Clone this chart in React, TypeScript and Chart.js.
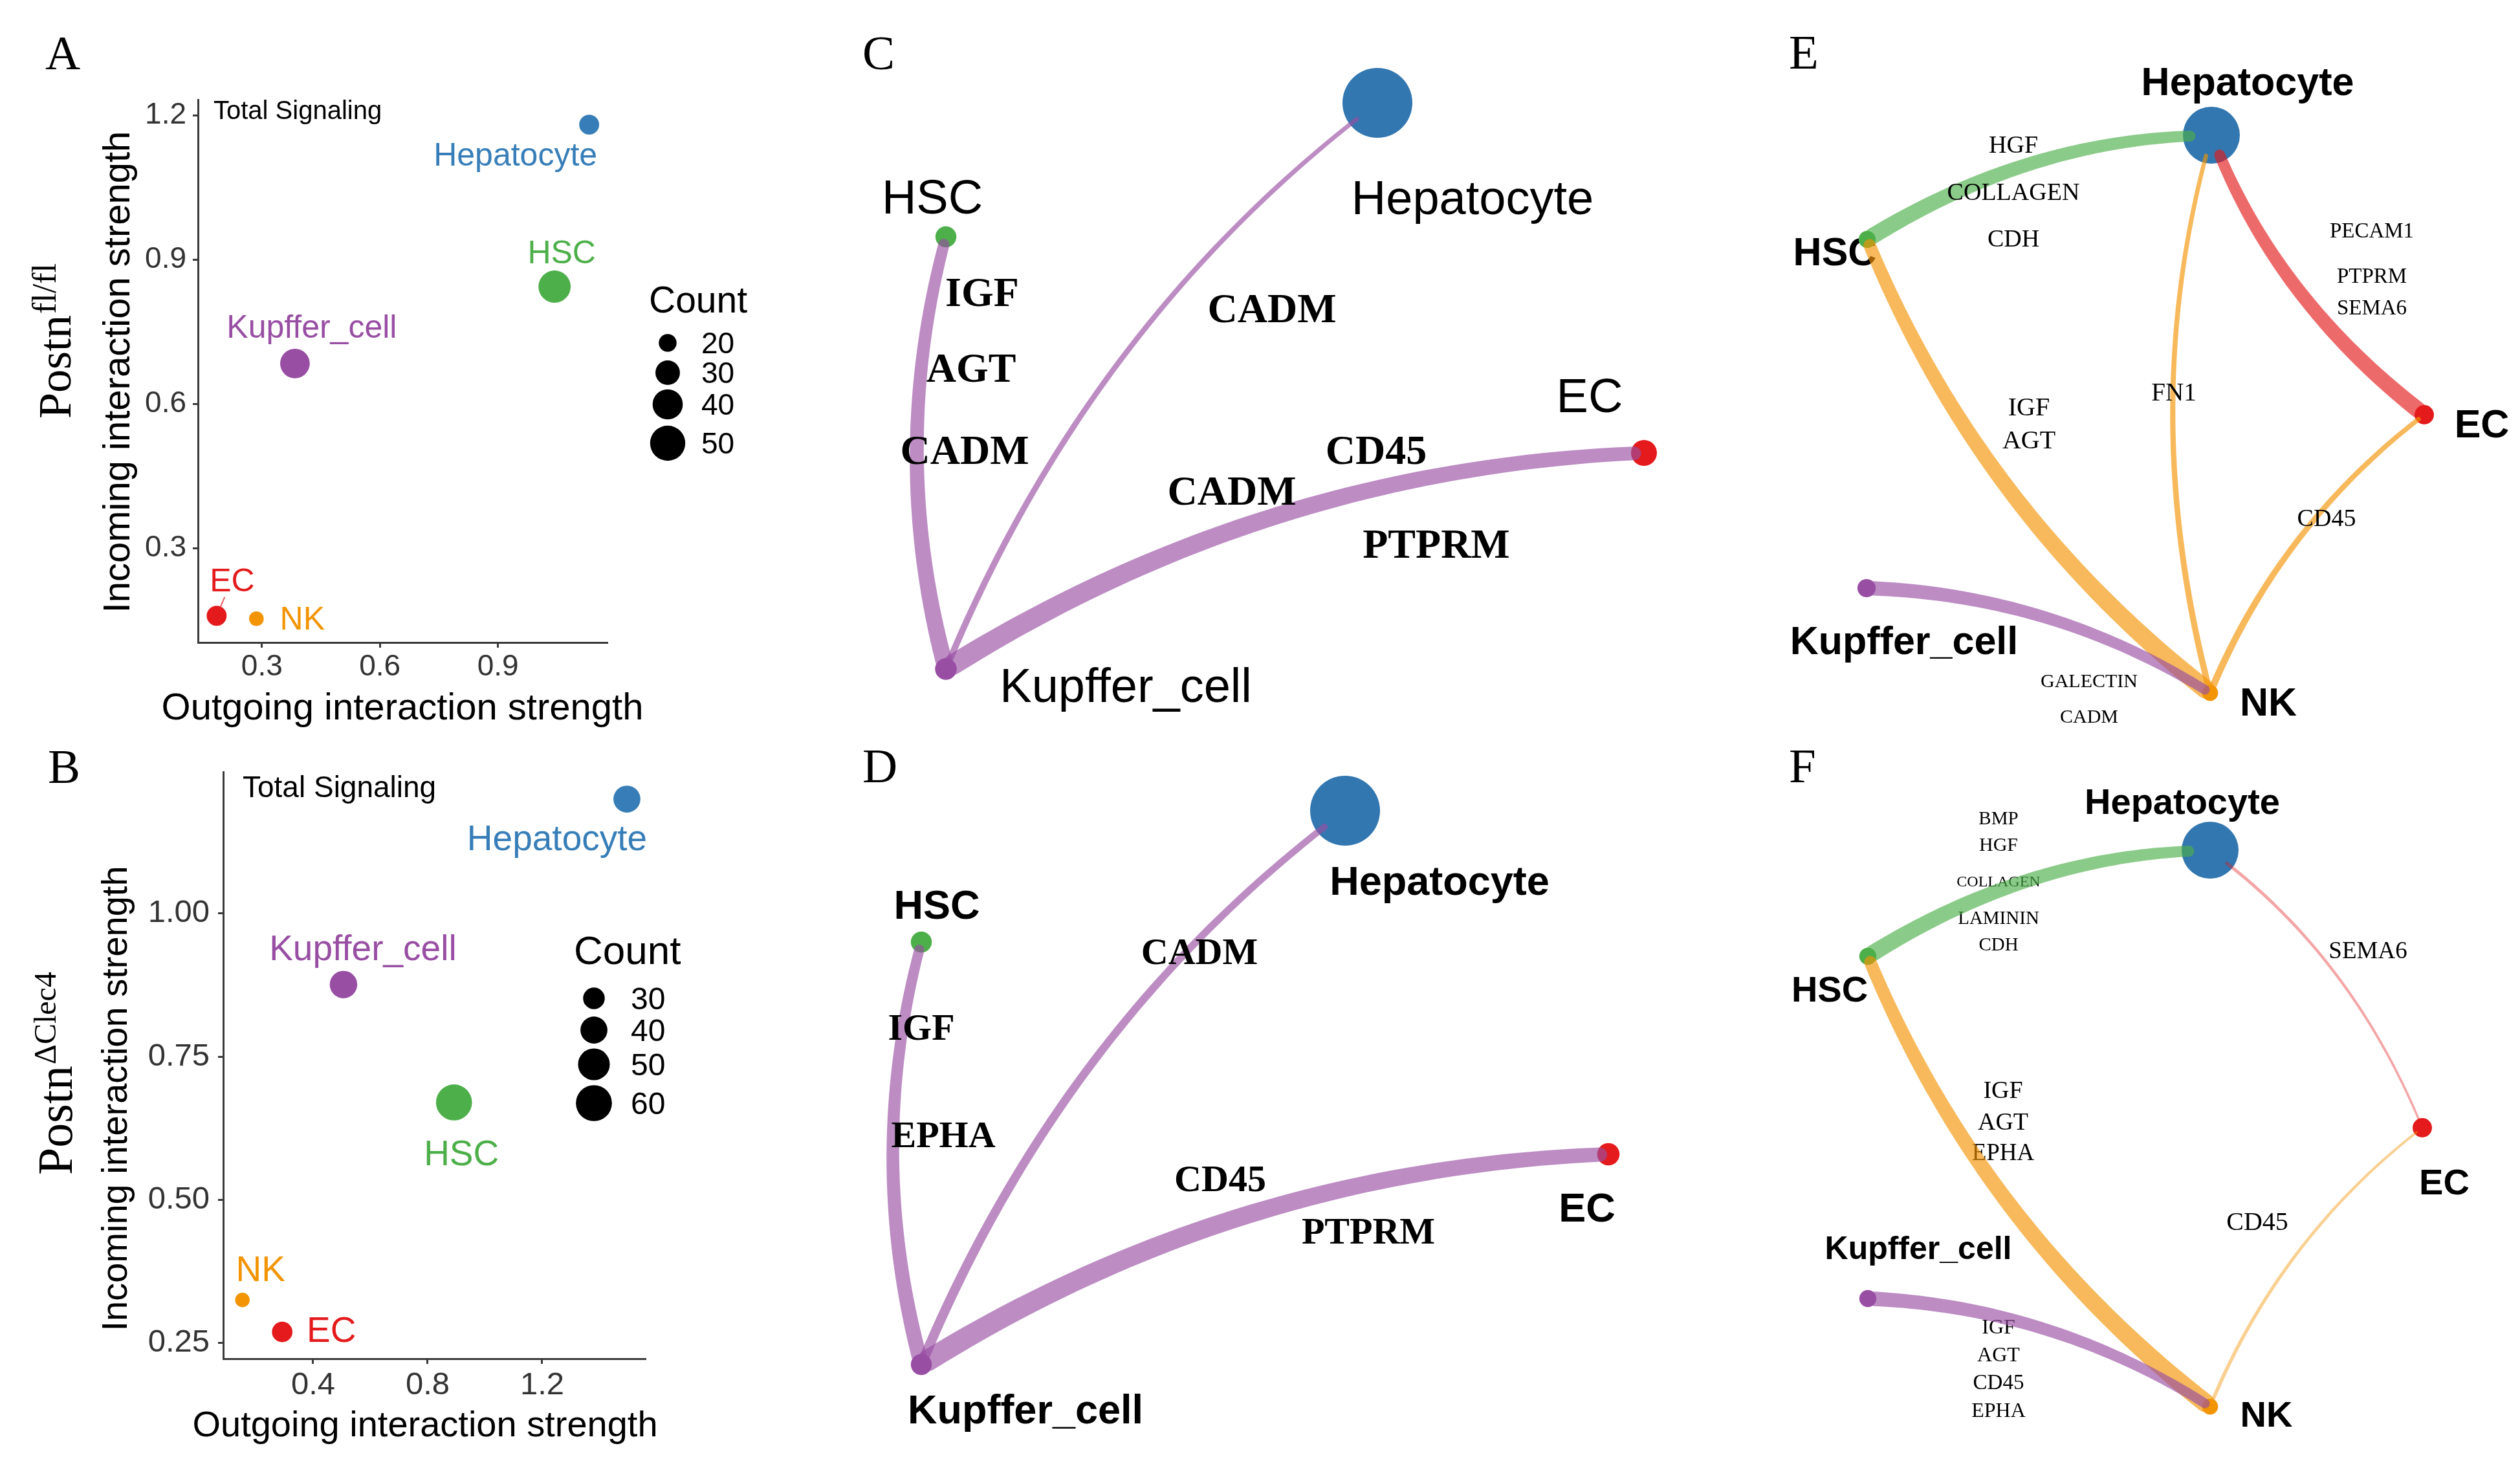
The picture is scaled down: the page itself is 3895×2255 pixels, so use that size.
import React, { useEffect, useRef } from "react";
import { Chart, registerables } from "chart.js";

Chart.register(...registerables);

const SANS = "'Liberation Sans', Arial, Helvetica, sans-serif";
const SERIF = "'Liberation Serif', 'Times New Roman', serif";

// ---------- shared categories ----------
const CELL_TYPES = ["Hepatocyte", "HSC", "Kupffer_cell", "EC", "NK"];
const CELL_COLORS = ["#377EB8", "#4DAF4A", "#984EA3", "#E41A1C", "#F29403"];
const NODE_COLORS = ["#3277B0", "#4DAF4A", "#984EA3", "#E41A1C", "#F29403"];

// ---------- Panel A (Postn fl/fl) ----------
const A_OUTGOING = [1.132, 1.044, 0.384, 0.185, 0.286];
const A_INCOMING = [1.181, 0.844, 0.684, 0.159, 0.153];
const A_COUNT = [23, 44, 39, 23, 16];
const A_X_TICKS = [0.3, 0.6, 0.9];
const A_Y_TICKS = [0.3, 0.6, 0.9, 1.2];
const A_COUNT_LEGEND = [20, 30, 40, 50];

// ---------- Panel B (Postn ΔClec4) ----------
const B_OUTGOING = [1.496, 0.892, 0.506, 0.292, 0.153];
const B_INCOMING = [1.2, 0.67, 0.876, 0.269, 0.325];
const B_COUNT = [40, 60, 41, 28, 19];
const B_X_TICKS = [0.4, 0.8, 1.2];
const B_Y_TICKS = [0.25, 0.5, 0.75, 1.0];
const B_COUNT_LEGEND = [30, 40, 50, 60];

// ---------- Panel C network (indices into CELL_TYPES) ----------
const C_NODES = [1, 0, 3, 2];
const C_NODE_X = [1462, 2129, 2541, 1462];
const C_NODE_Y = [366, 159, 700, 1034];
const C_NODE_WEIGHT = [0.3, 1.0, 0.37, 0.31];
const C_EDGE_FROM = [2, 2, 2];
const C_EDGE_TO = [1, 0, 3];
const C_EDGE_WEIGHT = [0.72, 0.28, 0.88];
const C_EDGE_COLOR = [2, 2, 2];
const C_EDGE_LABELS = ["IGF", "AGT", "CADM", "CADM", "CD45", "CADM", "PTPRM"];
const C_EDGE_LABEL_X = [1518, 1501, 1491, 1966, 2127, 1904, 2220];
const C_EDGE_LABEL_Y = [452, 569, 696, 477, 696, 759, 841];
const C_NODE_LABEL_X = [1441, 2276, 2457, 1740];
const C_NODE_LABEL_Y = [304, 305, 611, 1059];

// ---------- Panel D network ----------
const D_NODES = [1, 0, 3, 2];
const D_NODE_X = [1424, 2079, 2486, 1424];
const D_NODE_Y = [1456, 1253, 1784, 2109];
const D_NODE_WEIGHT = [0.3, 1.0, 0.32, 0.3];
const D_EDGE_FROM = [2, 2, 2];
const D_EDGE_TO = [1, 0, 3];
const D_EDGE_WEIGHT = [0.65, 0.42, 0.92];
const D_EDGE_COLOR = [2, 2, 2];
const D_EDGE_LABELS = ["CADM", "IGF", "EPHA", "CD45", "PTPRM"];
const D_EDGE_LABEL_X = [1854, 1424, 1458, 1886, 2115];
const D_EDGE_LABEL_Y = [1471, 1588, 1754, 1822, 1903];
const D_NODE_LABEL_X = [1448, 2225, 2453, 1585];
const D_NODE_LABEL_Y = [1397, 1360, 1865, 2177];

// ---------- Panel E network ----------
const E_NODES = [0, 1, 3, 2, 4];
const E_NODE_X = [3418, 2886, 3747, 2885, 3416];
const E_NODE_Y = [209, 370, 641, 909, 1071];
const E_NODE_WEIGHT = [1.0, 0.3, 0.34, 0.32, 0.28];
const E_EDGE_FROM = [1, 4, 4, 3, 4, 2];
const E_EDGE_TO = [0, 1, 0, 0, 3, 4];
const E_EDGE_WEIGHT = [0.7, 0.8, 0.27, 0.7, 0.3, 0.62];
const E_EDGE_COLOR = [1, 4, 4, 3, 4, 2];
const E_EDGE_LABELS = ["HGF", "COLLAGEN", "CDH", "PECAM1", "PTPRM", "SEMA6", "FN1", "IGF", "AGT", "CD45", "GALECTIN", "CADM"];
const E_EDGE_LABEL_X = [3112, 3112, 3112, 3666, 3666, 3666, 3360, 3136, 3136, 3596, 3229, 3229];
const E_EDGE_LABEL_Y = [223, 296, 368, 356, 426, 475, 606, 629, 680, 800, 1052, 1107];
const E_NODE_LABEL_X = [3474, 2836, 3836, 2943, 3506];
const E_NODE_LABEL_Y = [125, 388, 654, 989, 1084];

// ---------- Panel F network ----------
const F_NODES = [0, 1, 3, 2, 4];
const F_NODE_X = [3416, 2887, 3744, 2887, 3416];
const F_NODE_Y = [1314, 1478, 1743, 2007, 2174];
const F_NODE_WEIGHT = [1.0, 0.3, 0.34, 0.3, 0.28];
const F_EDGE_FROM = [1, 4, 0, 4, 2];
const F_EDGE_TO = [0, 1, 3, 3, 4];
const F_EDGE_WEIGHT = [0.7, 0.8, 0.14, 0.16, 0.62];
const F_EDGE_COLOR = [1, 4, 3, 4, 2];
const F_EDGE_LABELS = ["BMP", "HGF", "COLLAGEN", "LAMININ", "CDH", "SEMA6", "IGF", "AGT", "EPHA", "CD45", "IGF", "AGT", "CD45", "EPHA"];
const F_EDGE_LABEL_X = [3089, 3089, 3089, 3089, 3089, 3660, 3096, 3096, 3096, 3489, 3089, 3089, 3089, 3089];
const F_EDGE_LABEL_Y = [1264, 1305, 1362, 1418, 1459, 1469, 1684, 1733, 1781, 1888, 2050, 2093, 2136, 2179];
const F_NODE_LABEL_X = [3373, 2828, 3778, 2965, 3503];
const F_NODE_LABEL_Y = [1238, 1528, 1826, 1928, 2185];

// ---------- helpers ----------
function rgba(hex: string, a: number) {
  const n = parseInt(hex.slice(1), 16);
  return `rgba(${(n >> 16) & 255},${(n >> 8) & 255},${n & 255},${a})`;
}

function txt(ctx: CanvasRenderingContext2D, s: string, x: number, y: number, size: number, o: any = {}) {
  const fam = o.family || SANS;
  ctx.font = `${o.weight || "normal"} ${size}px ${fam}`;
  ctx.fillStyle = o.color || "#000";
  ctx.textAlign = o.align || "center";
  ctx.textBaseline = "alphabetic";
  const cap = fam === SERIF ? 0.662 : 0.716;
  ctx.fillText(s, x, y + (size * cap) / 2);
}

function letter(ctx: CanvasRenderingContext2D, s: string, x: number, y: number) {
  ctx.font = `normal 75px ${SERIF}`;
  ctx.fillStyle = "#000";
  ctx.textAlign = "left";
  ctx.textBaseline = "alphabetic";
  ctx.fillText(s, x, y);
}

// ---------- scatter panels ----------
const A_SPEC = {
  box: [0, 0, 1300, 1127],
  area: [306, 154, 939, 993],
  x: A_OUTGOING, y: A_INCOMING, count: A_COUNT,
  xRange: [0.1375, 1.1786], yRange: [0.1035, 1.2331],
  xTicks: A_X_TICKS, yTicks: A_Y_TICKS, xDec: 1, yDec: 1, tickSize: 46, xPad: 3, yPad: 10,
  radius: (v: number) => -9.37 + 5.17 * Math.sqrt(v),
  labelOffsets: [[-114, 45], [11, -54], [26, -58], [24, -56], [71, -1]],
  labelSize: 50,
  segment: [false, false, false, true, false],
  total: { x: 330, y: 170, size: 40 },
  xTitle: { x: 622, y: 1091, size: 58 },
  yTitle: { x: 179, y: 575, size: 58 },
  postn: { x: 109, y: 527, size: 72, sup: "fl/fl", supSize: 52, raise: 23 },
  legend: { titleX: 1003, titleY: 463, titleSize: 57, dotX: 1032, ys: [530, 576, 625, 685], values: A_COUNT_LEGEND, labelX: 1084, labelSize: 46 },
  letter: { s: "A", x: 70, y: 107 },
};

const B_SPEC = {
  box: [0, 1127, 1300, 1128],
  area: [345, 1193, 998, 2100],
  x: B_OUTGOING, y: B_INCOMING, count: B_COUNT,
  xRange: [0.0859, 1.5616], yRange: [0.2223, 1.2475],
  xTicks: B_X_TICKS, yTicks: B_Y_TICKS, xDec: 1, yDec: 2, tickSize: 49, xPad: 4, yPad: 13,
  radius: (v: number) => -10.08 + 4.895 * Math.sqrt(v),
  labelOffsets: [[-108, 59], [11.5, 77], [30, -57], [76, -4], [28, -49]],
  labelSize: 55,
  segment: [false, false, false, false, false],
  total: { x: 375, y: 1216, size: 46 },
  xTitle: { x: 657, y: 2200, size: 56 },
  yTitle: { x: 176, y: 1698, size: 56 },
  postn: { x: 111, y: 1659, size: 76, sup: "\u0394Clec4", supSize: 48, raise: 25 },
  legend: { titleX: 887, titleY: 1468, titleSize: 62, dotX: 918, ys: [1543, 1592, 1645, 1705], values: B_COUNT_LEGEND, labelX: 975, labelSize: 48 },
  letter: { s: "B", x: 74, y: 1210 },
};

function axisCfg(range: number[], ticks: number[], dec: number, size: number, pad: number, isX: boolean, extent: number) {
  return {
    type: "linear",
    min: range[0],
    max: range[1],
    afterFit: (sc: any) => {
      if (isX) sc.height = extent;
      else sc.width = extent;
    },
    afterBuildTicks: (sc: any) => {
      sc.ticks = ticks.map((v) => ({ value: v }));
    },
    ticks: {
      callback: (v: any) => Number(v).toFixed(dec),
      font: { family: SANS, size },
      color: "#333333",
      padding: pad,
      maxRotation: 0,
      minRotation: 0,
      autoSkip: false,
    },
    grid: { drawOnChartArea: false, drawTicks: true, tickLength: 8, tickColor: "#3a3a3a", tickWidth: 3 },
    border: { display: true, color: "#3a3a3a", width: 3 },
  };
}

function scatterPlugin(s: any) {
  return {
    id: "scatterText" + s.letter.s,
    afterDraw(chart: any) {
      const ctx: CanvasRenderingContext2D = chart.ctx;
      const ox = s.box[0], oy = s.box[1];
      const xs = chart.scales.x, ys = chart.scales.y;
      ctx.save();
      s.x.forEach((xv: number, i: number) => {
        const px = xs.getPixelForValue(xv), py = ys.getPixelForValue(s.y[i]);
        const [dx, dy] = s.labelOffsets[i];
        if (s.segment[i]) {
          const L = Math.hypot(dx, dy);
          const ux = dx / L, uy = dy / L;
          const r = s.radius(s.count[i]);
          ctx.beginPath();
          ctx.moveTo(px + ux * r, py + uy * r);
          ctx.lineTo(px + ux * (r + 16), py + uy * (r + 16));
          ctx.strokeStyle = rgba(CELL_COLORS[i], 0.7);
          ctx.lineWidth = 2;
          ctx.stroke();
        }
        txt(ctx, CELL_TYPES[i], px + dx, py + dy, s.labelSize, { color: CELL_COLORS[i] });
      });
      txt(ctx, "Total Signaling", s.total.x - ox, s.total.y - oy, s.total.size, { align: "left" });
      txt(ctx, "Outgoing interaction strength", s.xTitle.x - ox, s.xTitle.y - oy, s.xTitle.size, {});
      ctx.save();
      ctx.translate(s.yTitle.x - ox, s.yTitle.y - oy);
      ctx.rotate(-Math.PI / 2);
      txt(ctx, "Incoming interaction strength", 0, 0, s.yTitle.size, {});
      ctx.restore();
      // Postn genotype label with superscript
      ctx.save();
      ctx.translate(s.postn.x - ox, s.postn.y - oy);
      ctx.rotate(-Math.PI / 2);
      ctx.font = `normal ${s.postn.size}px ${SERIF}`;
      const w1 = ctx.measureText("Postn").width;
      ctx.font = `normal ${s.postn.supSize}px ${SERIF}`;
      const w2 = ctx.measureText(s.postn.sup).width;
      const start = -(w1 + w2 + 2) / 2;
      ctx.fillStyle = "#000";
      ctx.textAlign = "left";
      ctx.textBaseline = "alphabetic";
      ctx.font = `normal ${s.postn.size}px ${SERIF}`;
      ctx.fillText("Postn", start, 0);
      ctx.font = `normal ${s.postn.supSize}px ${SERIF}`;
      ctx.fillText(s.postn.sup, start + w1 + 2, -s.postn.raise);
      ctx.restore();
      // size legend
      const lg = s.legend;
      txt(ctx, "Count", lg.titleX - ox, lg.titleY - oy, lg.titleSize, { align: "left" });
      lg.values.forEach((v: number, i: number) => {
        const cy = lg.ys[i] - oy;
        ctx.beginPath();
        ctx.arc(lg.dotX - ox, cy, s.radius(v), 0, Math.PI * 2);
        ctx.fillStyle = "#000";
        ctx.fill();
        txt(ctx, String(v), lg.labelX - ox, cy, lg.labelSize, { align: "left" });
      });
      letter(ctx, s.letter.s, s.letter.x - ox, s.letter.y - oy);
      ctx.restore();
    },
  };
}

function scatterConfig(s: any): any {
  const [x0, y0, w, h] = s.box;
  const [l, t, r, b] = s.area;
  return {
    type: "scatter",
    data: {
      datasets: [
        {
          data: s.x.map((v: number, i: number) => ({ x: v, y: s.y[i] })),
          pointRadius: s.count.map((c: number) => s.radius(c)),
          pointHoverRadius: s.count.map((c: number) => s.radius(c)),
          pointBackgroundColor: CELL_COLORS,
          pointBorderWidth: 0,
          clip: false,
        },
      ],
    },
    options: {
      animation: false,
      responsive: false,
      events: [],
      layout: { autoPadding: false, padding: { left: 0, top: t - y0, right: x0 + w - r, bottom: 0 } },
      plugins: { legend: { display: false }, tooltip: { enabled: false } },
      scales: {
        x: axisCfg(s.xRange, s.xTicks, s.xDec, s.tickSize, s.xPad, true, y0 + h - b),
        y: axisCfg(s.yRange, s.yTicks, s.yDec, s.tickSize, s.yPad, false, l - x0),
      },
    },
    plugins: [scatterPlugin(s)],
  };
}

// ---------- network panels ----------
const CURVATURE = 0.13;
const EDGE_WIDTH_MAX = 30;
const TAPER_SOURCE = 1.2;
const TAPER_TARGET = 0.8;
const edgeAlpha = (w: number) => Math.min(0.65, 0.1 + 0.07 * w);

const C_SPEC = {
  box: [1300, 0, 1400, 1127],
  nodes: C_NODES, x: C_NODE_X, y: C_NODE_Y, weight: C_NODE_WEIGHT, rMax: 54,
  from: C_EDGE_FROM, to: C_EDGE_TO, ew: C_EDGE_WEIGHT, ec: C_EDGE_COLOR,
  nodeLabelX: C_NODE_LABEL_X, nodeLabelY: C_NODE_LABEL_Y, nodeLabelSize: [74, 74, 74, 74], nodeLabelWeight: "normal",
  edgeLabels: C_EDGE_LABELS, edgeLabelX: C_EDGE_LABEL_X, edgeLabelY: C_EDGE_LABEL_Y,
  edgeLabelSize: [64, 64, 64, 64, 64, 64, 64], edgeLabelWeight: "bold", edgeLabelsUnder: false,
  letter: { s: "C", x: 1333, y: 107 },
};

const D_SPEC = {
  box: [1300, 1127, 1400, 1128],
  nodes: D_NODES, x: D_NODE_X, y: D_NODE_Y, weight: D_NODE_WEIGHT, rMax: 54,
  from: D_EDGE_FROM, to: D_EDGE_TO, ew: D_EDGE_WEIGHT, ec: D_EDGE_COLOR,
  nodeLabelX: D_NODE_LABEL_X, nodeLabelY: D_NODE_LABEL_Y, nodeLabelSize: [63, 63, 63, 63], nodeLabelWeight: "bold",
  edgeLabels: D_EDGE_LABELS, edgeLabelX: D_EDGE_LABEL_X, edgeLabelY: D_EDGE_LABEL_Y,
  edgeLabelSize: [58, 58, 58, 58, 58], edgeLabelWeight: "bold", edgeLabelsUnder: false,
  letter: { s: "D", x: 1333, y: 1209 },
};

const E_SPEC = {
  box: [2700, 0, 1195, 1127],
  nodes: E_NODES, x: E_NODE_X, y: E_NODE_Y, weight: E_NODE_WEIGHT, rMax: 44,
  from: E_EDGE_FROM, to: E_EDGE_TO, ew: E_EDGE_WEIGHT, ec: E_EDGE_COLOR,
  nodeLabelX: E_NODE_LABEL_X, nodeLabelY: E_NODE_LABEL_Y, nodeLabelSize: [61, 61, 61, 61, 61], nodeLabelWeight: "bold",
  edgeLabels: E_EDGE_LABELS, edgeLabelX: E_EDGE_LABEL_X, edgeLabelY: E_EDGE_LABEL_Y,
  edgeLabelSize: [38, 38, 38, 33, 33, 33, 39, 40, 40, 38, 30, 30], edgeLabelWeight: "normal", edgeLabelsUnder: false,
  letter: { s: "E", x: 2765, y: 106 },
};

const F_SPEC = {
  box: [2700, 1127, 1195, 1128],
  nodes: F_NODES, x: F_NODE_X, y: F_NODE_Y, weight: F_NODE_WEIGHT, rMax: 44,
  from: F_EDGE_FROM, to: F_EDGE_TO, ew: F_EDGE_WEIGHT, ec: F_EDGE_COLOR,
  nodeLabelX: F_NODE_LABEL_X, nodeLabelY: F_NODE_LABEL_Y, nodeLabelSize: [56, 56, 56, 50, 56], nodeLabelWeight: "bold",
  edgeLabels: F_EDGE_LABELS, edgeLabelX: F_EDGE_LABEL_X, edgeLabelY: F_EDGE_LABEL_Y,
  edgeLabelSize: [29, 30, 24, 29, 29, 37, 38, 38, 37, 40, 32, 32, 33, 32], edgeLabelWeight: "normal", edgeLabelsUnder: true,
  letter: { s: "F", x: 2765, y: 1209 },
};

// tapered quadratic edge as a single outline, filled once (uniform alpha)
function drawTaperedEdge(ctx: CanvasRenderingContext2D, s: any, c: any, e: any, w0: number, w1: number, color: string) {
  const N = 48;
  const left: number[][] = [];
  const right: number[][] = [];
  let an0 = 0, an1 = 0;
  for (let i = 0; i <= N; i++) {
    const t = i / N, mt = 1 - t;
    const x = mt * mt * s.x + 2 * mt * t * c.x + t * t * e.x;
    const y = mt * mt * s.y + 2 * mt * t * c.y + t * t * e.y;
    const tx = 2 * mt * (c.x - s.x) + 2 * t * (e.x - c.x);
    const ty = 2 * mt * (c.y - s.y) + 2 * t * (e.y - c.y);
    const L = Math.hypot(tx, ty) || 1;
    const nx = -ty / L, ny = tx / L;
    const hw = (w0 + (w1 - w0) * t) / 2;
    left.push([x + nx * hw, y + ny * hw]);
    right.push([x - nx * hw, y - ny * hw]);
    if (i === 0) an0 = Math.atan2(ny, nx);
    if (i === N) an1 = Math.atan2(ny, nx);
  }
  ctx.beginPath();
  ctx.moveTo(left[0][0], left[0][1]);
  for (let i = 1; i <= N; i++) ctx.lineTo(left[i][0], left[i][1]);
  ctx.arc(e.x, e.y, w1 / 2, an1, an1 - Math.PI, true);
  for (let i = N; i >= 0; i--) ctx.lineTo(right[i][0], right[i][1]);
  ctx.arc(s.x, s.y, w0 / 2, an0 + Math.PI, an0, true);
  ctx.closePath();
  ctx.fillStyle = color;
  ctx.fill();
}

function netPlugin(n: any) {
  const drawEdgeLabels = (chart: any) => {
    const ctx = chart.ctx, xs = chart.scales.x, ys = chart.scales.y;
    n.edgeLabels.forEach((s: string, i: number) => {
      txt(ctx, s, xs.getPixelForValue(n.edgeLabelX[i]), ys.getPixelForValue(n.edgeLabelY[i]), n.edgeLabelSize[i], { family: SERIF, weight: n.edgeLabelWeight });
    });
  };
  return {
    id: "net" + n.letter.s,
    beforeDatasetsDraw(chart: any) {
      const ctx: CanvasRenderingContext2D = chart.ctx, xs = chart.scales.x, ys = chart.scales.y;
      ctx.save();
      n.nodes.forEach((t: number, i: number) => {
        txt(ctx, CELL_TYPES[t], xs.getPixelForValue(n.nodeLabelX[i]), ys.getPixelForValue(n.nodeLabelY[i]), n.nodeLabelSize[i], { weight: n.nodeLabelWeight });
      });
      if (n.edgeLabelsUnder) drawEdgeLabels(chart);
      ctx.restore();
    },
    afterDatasetsDraw(chart: any) {
      const ctx: CanvasRenderingContext2D = chart.ctx, xs = chart.scales.x, ys = chart.scales.y;
      ctx.save();
      n.from.forEach((f: number, k: number) => {
        const i0 = n.nodes.indexOf(f), i2 = n.nodes.indexOf(n.to[k]);
        const p0 = { x: xs.getPixelForValue(n.x[i0]), y: ys.getPixelForValue(n.y[i0]) };
        const p2 = { x: xs.getPixelForValue(n.x[i2]), y: ys.getPixelForValue(n.y[i2]) };
        const r0 = n.weight[i0] * n.rMax, r2 = n.weight[i2] * n.rMax;
        const dx = p2.x - p0.x, dy = p2.y - p0.y;
        const c = { x: (p0.x + p2.x) / 2 + CURVATURE * dy, y: (p0.y + p2.y) / 2 - CURVATURE * dx };
        const trim = (p: any, r: number) => {
          const vx = c.x - p.x, vy = c.y - p.y;
          const L = Math.hypot(vx, vy);
          return { x: p.x + (vx / L) * r, y: p.y + (vy / L) * r };
        };
        const s = trim(p0, r0 * 0.75), e = trim(p2, r2 * 0.75);
        const w = n.ew[k] * EDGE_WIDTH_MAX;
        drawTaperedEdge(ctx, s, c, e, w * TAPER_SOURCE, w * TAPER_TARGET, rgba(NODE_COLORS[n.ec[k]], edgeAlpha(w)));
      });
      if (!n.edgeLabelsUnder) drawEdgeLabels(chart);
      letter(ctx, n.letter.s, n.letter.x - n.box[0], n.letter.y - n.box[1]);
      ctx.restore();
    },
  };
}

function netConfig(n: any): any {
  const [x0, y0, w, h] = n.box;
  const radii = n.weight.map((v: number) => v * n.rMax);
  return {
    type: "scatter",
    data: {
      datasets: [
        {
          data: n.nodes.map((t: number, i: number) => ({ x: n.x[i], y: n.y[i] })),
          pointRadius: radii,
          pointHoverRadius: radii,
          pointBackgroundColor: n.nodes.map((t: number) => NODE_COLORS[t]),
          pointBorderWidth: 0,
          clip: false,
        },
      ],
    },
    options: {
      animation: false,
      responsive: false,
      events: [],
      layout: { autoPadding: false, padding: 0 },
      plugins: { legend: { display: false }, tooltip: { enabled: false } },
      scales: {
        x: { type: "linear", display: false, min: x0, max: x0 + w },
        y: { type: "linear", display: false, min: y0, max: y0 + h, reverse: true },
      },
    },
    plugins: [netPlugin(n)],
  };
}

function ChartBox({ box, make }: { box: number[]; make: () => any }) {
  const ref = useRef<HTMLCanvasElement>(null);
  useEffect(() => {
    const chart = new Chart(ref.current as HTMLCanvasElement, make());
    return () => chart.destroy();
  }, []);
  return (
    <canvas
      ref={ref}
      width={box[2]}
      height={box[3]}
      style={{ position: "absolute", left: box[0], top: box[1], width: box[2], height: box[3] }}
    />
  );
}

export default function App() {
  useEffect(() => {
    document.body.style.margin = "0";
  }, []);
  return (
    <div style={{ position: "fixed", left: 0, top: 0, width: 3895, height: 2255, background: "#ffffff", overflow: "hidden" }}>
      <ChartBox box={A_SPEC.box} make={() => scatterConfig(A_SPEC)} />
      <ChartBox box={B_SPEC.box} make={() => scatterConfig(B_SPEC)} />
      <ChartBox box={C_SPEC.box} make={() => netConfig(C_SPEC)} />
      <ChartBox box={D_SPEC.box} make={() => netConfig(D_SPEC)} />
      <ChartBox box={E_SPEC.box} make={() => netConfig(E_SPEC)} />
      <ChartBox box={F_SPEC.box} make={() => netConfig(F_SPEC)} />
    </div>
  );
}
